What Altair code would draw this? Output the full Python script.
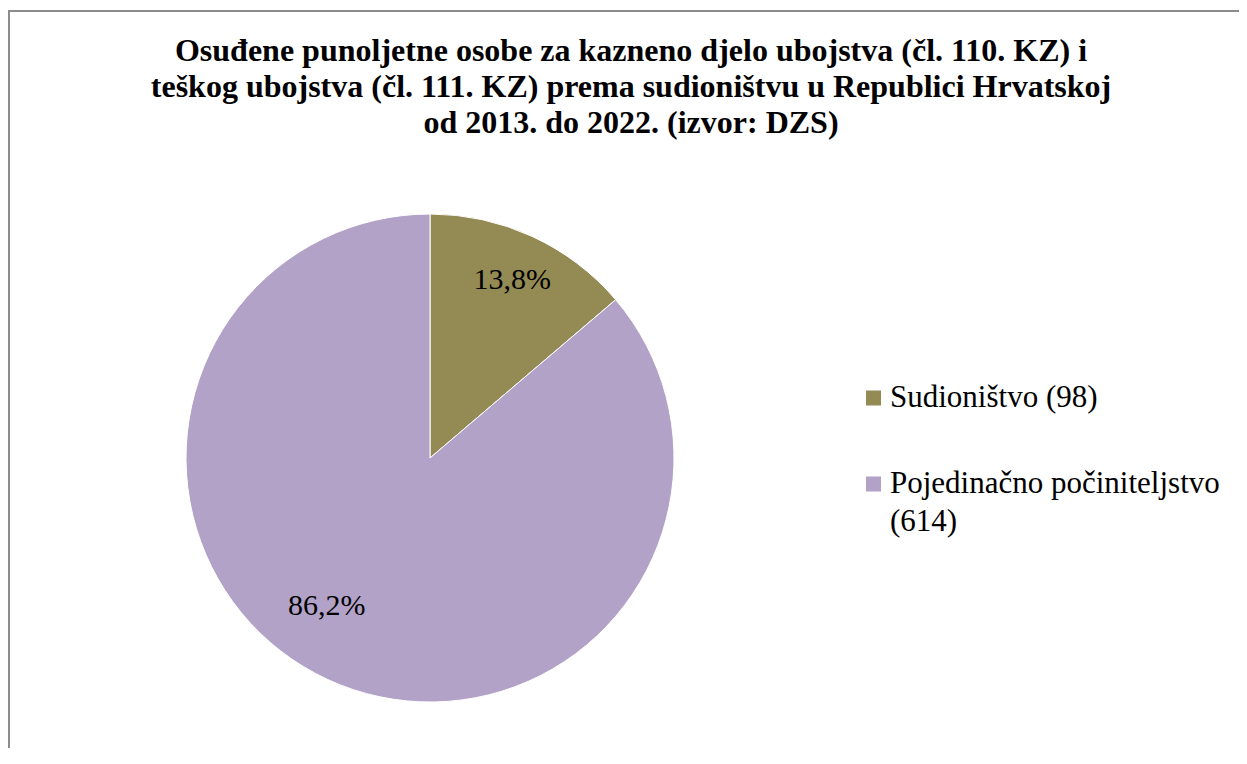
import altair as alt
import pandas as pd

TITLE_LINES = [
    "Osuđene punoljetne osobe za kazneno djelo ubojstva (čl. 110. KZ) i",
    "teškog ubojstva (čl. 111. KZ) prema sudioništvu u Republici Hrvatskoj",
    "od 2013. do 2022. (izvor: DZS)",
]
CATEGORIES = ["Sudioništvo", "Pojedinačno počiniteljstvo"]
COUNTS = [98, 614]
PERCENT_LABELS = ["13,8%", "86,2%"]
COLORS = ["#948A54", "#B3A2C7"]
# legend text, "|" marks a line break
LEGEND_KEYS = ["Sudioništvo (98)|", "Pojedinačno počiniteljstvo|(614)"]

df = pd.DataFrame({
    "idx": [0, 1],
    "category": CATEGORIES,
    "count": COUNTS,
    "pct": PERCENT_LABELS,
    "legend": LEGEND_KEYS,
})

W, H = 1231, 740
FONT = "Liberation Serif"
CX, CY, R = 422, 450, 244
BORDER = "#8c8c8c"

base = alt.Chart(df)

pie = base.mark_arc(radius=R, stroke="white", strokeWidth=1).encode(
    theta=alt.Theta("count:Q", stack=True),
    order=alt.Order("idx:Q"),
    color=alt.Color(
        "legend:N",
        scale=alt.Scale(domain=LEGEND_KEYS, range=COLORS),
        legend=alt.Legend(
            title=None, orient="none", legendX=850, legendY=374.5,
            symbolType="square", symbolSize=225, symbolStrokeWidth=0,
            symbolOpacity=1,
            labelFont=FONT, labelFontSize=31, labelColor="black",
            labelLimit=600, labelOffset=1, rowPadding=16, padding=0,
            labelExpr="split(datum.label, '|')",
        ),
    ),
    x=alt.value(CX), y=alt.value(CY),
)

lab_a = base.transform_calculate(
    lab="datum.idx == 0 ? datum.pct : ''"
).mark_text(radius=196, font=FONT, fontSize=30, color="black").encode(
    theta=alt.Theta("count:Q", stack=True),
    order=alt.Order("idx:Q"),
    detail="idx:N",
    text="lab:N",
    x=alt.value(CX), y=alt.value(CY),
)

lab_b = base.transform_calculate(
    lab="datum.idx == 1 ? datum.pct : ''"
).mark_text(radius=163, dx=-35, font=FONT, fontSize=30, color="black").encode(
    theta=alt.Theta("count:Q", stack=True),
    order=alt.Order("idx:Q"),
    detail="idx:N",
    text="lab:N",
    x=alt.value(CX), y=alt.value(CY),
)

one = pd.DataFrame({"k": [0]})
title = alt.Chart(one).mark_text(
    text=TITLE_LINES, font=FONT, fontSize=32, fontWeight="bold",
    lineHeight=36.3, align="center", baseline="alphabetic", color="black",
).encode(x=alt.value(623), y=alt.value(52.7))

left_border = alt.Chart(one).mark_rect(color=BORDER, strokeWidth=0).encode(
    x=alt.value(0), x2=alt.value(2), y=alt.value(2), y2=alt.value(H)
)
top_border = alt.Chart(one).mark_rect(color=BORDER, strokeWidth=0).encode(
    x=alt.value(0), x2=alt.value(W), y=alt.value(2), y2=alt.value(4)
)

chart = alt.layer(left_border, top_border, title, pie, lab_a, lab_b).properties(
    width=W, height=H,
    autosize=alt.AutoSizeParams(type="none"),
    padding=0,
    background="white",
).configure(
    view=alt.ViewConfig(stroke=None),
    style={"guide-label": {"lineHeight": 38}},
)

chart.save("out.html", embed_options={"renderer": "svg", "actions": False})
